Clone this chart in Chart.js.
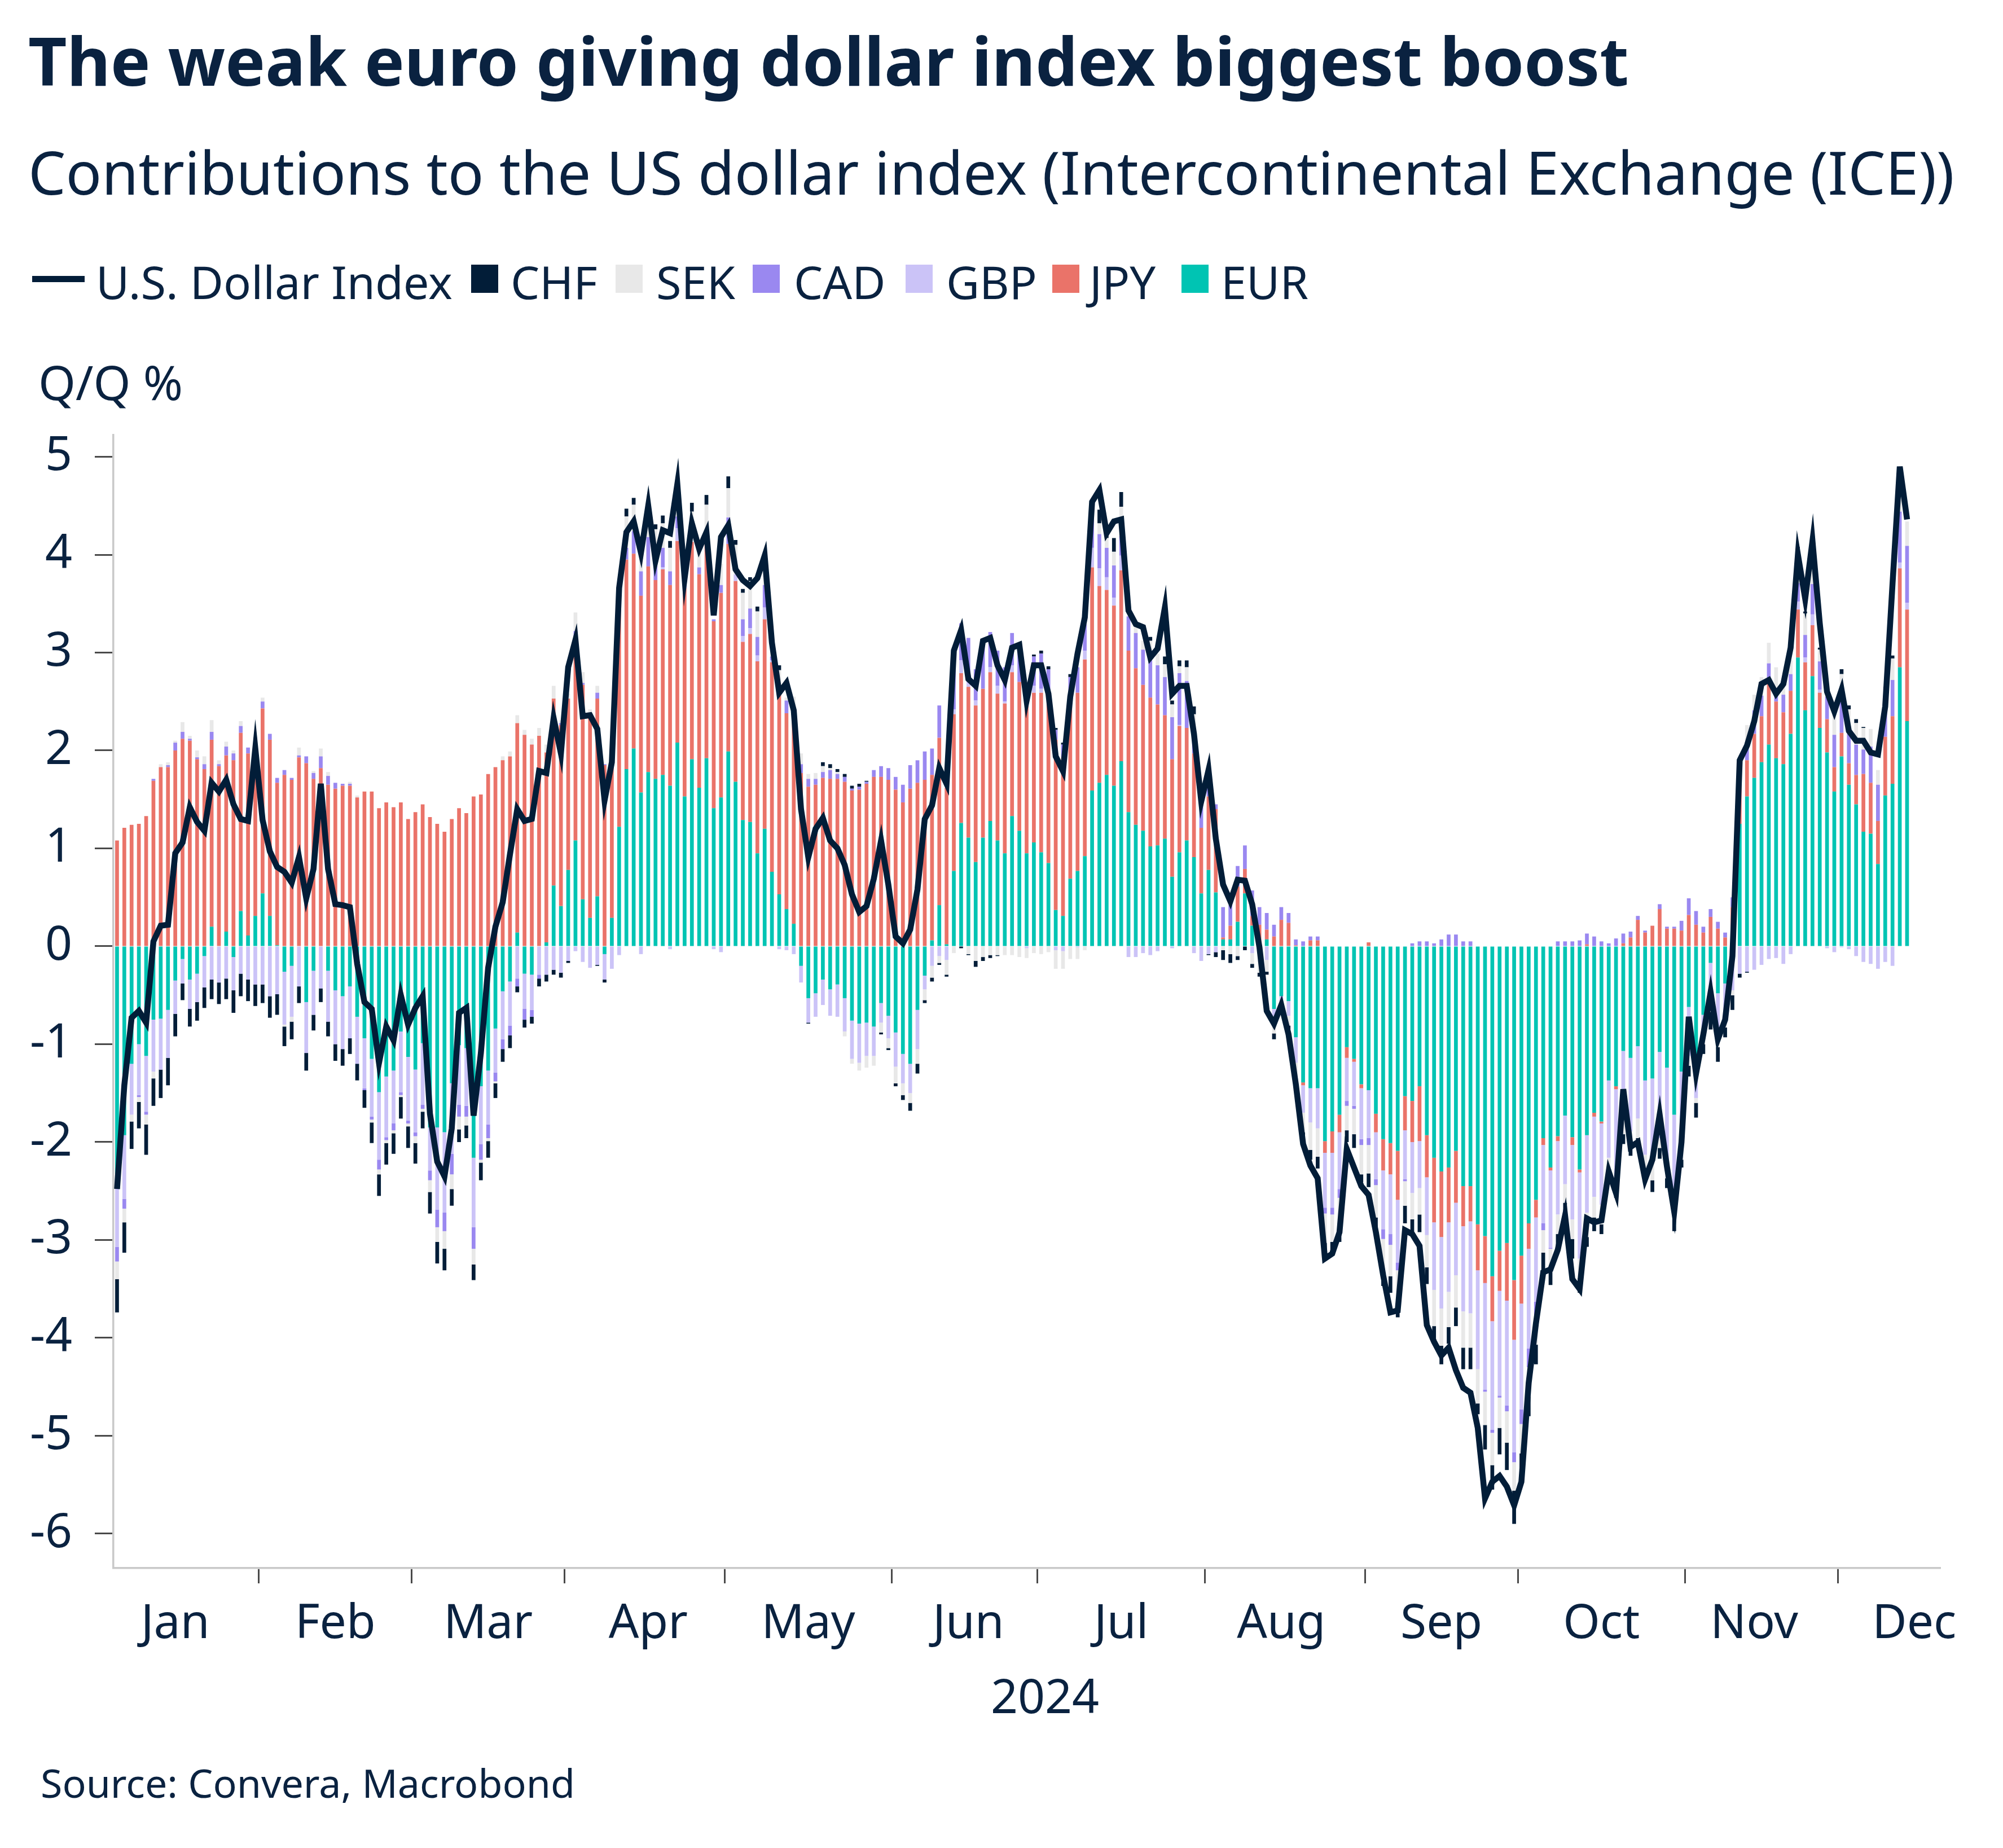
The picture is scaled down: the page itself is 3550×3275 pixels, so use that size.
<!DOCTYPE html>
<html>
<head>
<meta charset="utf-8">
<script src="https://cdn.jsdelivr.net/npm/chart.js@4.4.1/dist/chart.umd.min.js"></script>
<style>
html,body{margin:0;padding:0;background:#fff;}
#wrap{position:relative;width:3550px;height:3275px;overflow:hidden;background:#fff;}
#c{position:absolute;left:0;top:0;}
</style>
</head>
<body>
<div id="wrap">
<canvas id="c" width="3550" height="3275"></canvas>
</div>
<script>
// ---------------- DATA ----------------
const monthNames = ['Jan','Feb','Mar','Apr','May','Jun','Jul','Aug','Sep','Oct','Nov','Dec'];
const monthLabelDates = ['2024-01-16','2024-02-15','2024-03-15','2024-04-16','2024-05-16','2024-06-17',
  '2024-07-16','2024-08-15','2024-09-16','2024-10-16','2024-11-14','2024-12-16'];
const yTicks = [-6,-5,-4,-3,-2,-1,0,1,2,3,4,5];
const axisYear = '2024';

const eur = [
-2.34,-1.93,-1.20,-1.00,-1.12,-0.75,-0.74,-0.65,-0.35,-0.13,
-0.34,-0.28,-0.10,0.20,0,0.15,-0.11,0.36,0.11,0.31,
0.54,0.31,0.01,-0.26,-0.20,0,-0.57,-0.25,0,-0.25,
-0.45,-0.51,-0.41,-0.72,-0.94,-1.15,-1.49,-1.33,-1.27,-0.87,
-1.13,-1.26,-0.99,-1.85,-1.85,-1.90,-1.40,-1.01,-1.04,-2.16,
-1.43,-1.27,-0.84,-0.46,-0.36,0.14,-0.28,-0.29,0,0.04,
0.62,0.41,0.78,1.08,0.48,0.29,0.51,-0.08,0.29,1.22,
1.81,2.02,1.57,1.78,1.71,1.75,1.64,2.08,1.53,1.91,
1.62,1.92,1.41,1.52,1.99,1.68,1.29,1.27,0.95,1.20,
0.76,0.53,0.38,0.23,-0.20,-0.53,-0.48,-0.34,-0.44,-0.39,
-0.53,-0.76,-0.79,-0.78,-0.82,-0.58,-0.71,-0.88,-1.10,-1.20,
-0.65,-0.30,0.06,0.42,0.02,0.77,1.26,1.11,0.86,1.11,
1.28,1.08,0.95,1.33,1.18,0.95,1.06,0.96,0.85,0.37,
0.31,0.69,0.77,0.92,1.59,1.67,1.75,1.64,1.89,1.37,
1.24,1.18,1.02,1.03,1.10,0.71,0.96,1.08,0.91,0.54,
0.78,0.55,0.07,0.07,0.25,0.54,0.21,0,0.07,-0.64,
-0.51,-0.56,-0.93,-1.39,-1.45,-1.45,-1.99,-1.89,-1.72,-1.03,
-1.15,-1.41,-1.47,-1.71,-1.97,-2.01,-2.09,-1.53,-1.58,-1.43,
-1.93,-2.16,-2.30,-2.26,-2.09,-2.45,-2.45,-2.84,-2.96,-3.37,
-3.11,-3.03,-3.41,-3.16,-2.83,-2.59,-1.96,-2.26,-1.94,-1.73,
-1.95,-2.28,-1.93,-1.70,-1.79,-1.37,-1.43,-1.07,-1.14,-1.02,
-1.37,-1.35,-1.08,-1.24,-1.72,-1.28,-0.62,-1.20,-0.70,-0.17,
-0.48,-0.38,0.10,1.25,1.53,1.72,1.88,2.06,1.92,1.86,
2.17,2.95,2.41,2.76,2.23,1.98,1.58,1.94,1.65,1.45,
1.17,1.15,0.84,1.54,1.66,2.85,2.30];

const jpy = [
1.08,1.21,1.24,1.25,1.33,1.69,1.83,1.83,2.00,2.12,
2.10,1.91,1.81,1.91,1.84,1.80,1.90,1.82,1.86,1.78,
1.89,1.80,1.66,1.75,1.70,1.93,1.87,1.71,1.82,1.65,
1.61,1.64,1.64,1.52,1.58,1.58,1.41,1.47,1.42,1.47,
1.30,1.37,1.45,1.32,1.25,1.17,1.30,1.41,1.36,1.53,
1.55,1.76,1.83,1.90,1.94,2.14,2.16,2.06,2.15,1.94,
1.91,1.85,1.75,2.07,2.19,2.04,2.02,1.85,1.55,2.36,
2.14,1.99,2.01,2.10,2.03,2.10,2.05,2.06,2.13,2.22,
2.18,2.25,1.91,2.09,2.12,2.05,1.82,1.92,1.96,2.14,
2.14,2.04,2.00,2.22,1.77,1.63,1.65,1.72,1.71,1.71,
1.68,1.59,1.60,1.66,1.73,1.73,1.70,1.60,1.47,1.61,
1.67,1.70,1.69,1.71,1.60,1.60,1.53,1.54,1.60,1.52,
1.52,1.50,1.53,1.47,1.52,1.51,1.53,1.63,1.66,1.74,
1.62,1.76,1.82,2.01,2.28,2.01,1.89,1.84,1.95,1.65,
1.60,1.49,1.52,1.44,1.26,1.20,1.29,1.15,1.06,0.67,
0.75,0.85,0.02,0.14,0.36,0.25,0.10,0.22,0.10,0.10,
0.27,0.24,0.01,-0.03,0.06,0.06,-0.12,-0.22,-0.18,-0.11,
-0.03,-0.04,0.04,-0.19,-0.32,-0.32,-0.50,-0.35,-0.42,-0.56,
-0.43,-0.66,-0.67,-0.56,-0.53,-0.41,-0.36,-0.47,-0.48,-0.46,
-0.41,-0.59,-0.61,-0.49,-0.26,-0.18,-0.07,-0.03,-0.05,0,
-0.08,-0.03,0.02,-0.04,-0.02,0,-0.03,0.03,0.09,0.27,
0.14,0.21,0.38,0.18,0.18,0.16,0.32,0.22,0.14,0.30,
0.18,0.09,0.30,0.50,0.37,0.45,0.47,0.64,0.58,0.53,
0.44,0.49,0.49,0.52,0.36,0.34,0.25,0.24,0.22,0.30,
0.59,0.52,0.44,0.60,0.69,1.01,1.14];

const gbp = [
-0.73,-0.65,-0.52,-0.52,-0.57,-0.53,-0.52,-0.49,-0.34,-0.25,
-0.30,-0.29,-0.32,-0.34,-0.37,-0.33,-0.34,-0.28,-0.34,-0.39,
-0.39,-0.51,-0.49,-0.54,-0.52,-0.41,-0.52,-0.45,-0.43,-0.52,
-0.55,-0.54,-0.53,-0.48,-0.51,-0.59,-0.69,-0.62,-0.54,-0.62,
-0.65,-0.64,-0.63,-0.44,-0.84,-0.82,-0.72,-0.61,-0.59,-0.71,
-0.59,-0.55,-0.45,-0.49,-0.45,-0.33,-0.36,-0.36,-0.29,-0.29,
-0.24,-0.27,-0.15,-0.05,-0.16,-0.22,-0.19,-0.26,-0.23,-0.09,
0,0,-0.08,0,0,0.02,-0.03,0.13,0,0,
0,0,-0.03,-0.06,0,0.07,0.06,0.06,0.06,0.12,
0.02,-0.03,-0.04,-0.08,-0.17,-0.25,-0.24,-0.26,-0.27,-0.33,
-0.34,-0.39,-0.40,-0.34,-0.30,-0.20,-0.23,-0.35,-0.30,-0.30,
-0.40,-0.14,-0.20,-0.10,-0.14,0.05,0.13,0.05,0.05,0,
0.05,0.08,0.02,0.07,0,-0.02,0.07,0.04,0,-0.04,
-0.05,0,-0.01,0.09,0.20,0.18,0.13,0.08,0.15,-0.11,
-0.11,-0.07,-0.09,-0.05,0,-0.02,0.01,0,-0.07,-0.15,
-0.08,-0.06,0,0,0,0,-0.07,-0.03,-0.14,-0.07,
-0.06,-0.15,-0.26,-0.28,-0.35,-0.41,-0.56,-0.56,-0.58,-0.44,
-0.45,-0.52,-0.49,-0.48,-0.60,-0.61,-0.64,-0.50,-0.52,-0.48,
-0.59,-0.69,-0.73,-0.71,-0.74,-0.87,-0.94,-1.01,-1.09,-1.11,
-1.07,-1.07,-1.15,-1.08,-1.02,-0.86,-0.80,-0.79,-0.75,-0.70,
-0.76,-0.88,-0.79,-0.82,-0.83,-0.79,-0.96,-0.65,-0.75,-0.74,
-0.76,-0.85,-0.88,-1.03,-0.98,-0.80,-0.50,-0.35,-0.25,-0.45,
-0.50,-0.40,-0.45,-0.28,-0.26,-0.24,-0.19,-0.13,-0.12,-0.18,
-0.08,0.08,0.05,0.11,0.03,-0.02,-0.06,-0.01,-0.03,-0.10,
-0.16,-0.18,-0.23,-0.16,-0.20,0.06,0.07];

const cad = [
-0.15,-0.10,0,-0.02,-0.03,0.02,0,0.02,0.08,0.07,
0.02,0.02,0.05,0.08,0.02,0.09,0.07,0.07,0.06,0.04,
0.07,0.06,0.05,0.05,0.02,0.02,0.07,0.06,0.12,0.09,
0.06,0.02,0.02,0,-0.02,-0.03,-0.10,-0.03,-0.07,-0.03,
-0.03,-0.04,-0.04,-0.10,-0.18,-0.19,-0.21,-0.12,-0.11,-0.22,
-0.16,-0.14,-0.09,-0.10,-0.10,-0.08,-0.11,-0.07,-0.04,0,
0,0.02,0,0.07,0.02,0,0.06,0.01,0,0,
0.12,0.23,0.25,0.30,0.20,0.20,0.14,0.12,0.04,0,
0.07,0,0.02,0.08,0.27,0,0.17,0.20,0.19,0.23,
0.04,0,0.13,0,0.09,0.08,0.06,0.06,0.09,0.05,
0.05,0.02,0.03,0.02,0.07,0.11,0.12,0.13,0.18,0.24,
0.23,0.29,0.27,0.33,0,0.40,0.38,0.45,0.32,0.48,
0.36,0.36,0.35,0.33,0.39,0.06,0.30,0.36,0.32,0.10,
0.13,0.30,0.26,0.27,0.30,0.35,0.30,0.33,0.20,0.35,
0.36,0.36,0.38,0.40,0.39,0.43,0.53,0.48,0.20,0.25,
0.30,0.05,0.31,0.21,0.21,0.24,0.26,0.18,0.17,0.12,
0.13,0.10,0.06,0.05,0.04,0.04,-0.06,-0.07,-0.09,-0.05,
-0.03,-0.06,-0.07,-0.06,-0.10,-0.11,-0.08,-0.02,0.03,0.05,
0.05,0.03,0.07,0.12,0.12,0.05,0.05,0,-0.02,-0.03,
-0.02,-0.06,-0.10,-0.15,-0.19,-0.14,-0.07,-0.01,0.05,0.05,
0.05,0.06,0.11,0.10,0.05,0.03,0.08,0.10,0.06,0.04,
0.02,0,0.05,0.02,0.02,0.10,0.17,0.14,0.06,0.08,
0.07,0.05,0.10,0.12,0.17,0.24,0.21,0.19,0.14,0.18,
0.17,0.19,0.23,0.31,0.29,0.23,0.33,0.35,0.30,0.31,
0.25,0.37,0.37,0.38,0.37,0.52,0.58];

const sek = [
-0.18,-0.14,-0.07,-0.05,-0.10,-0.07,0.03,0.03,0.02,0.10,
0.03,0.07,0.08,0.12,0.04,0.05,0.03,0.05,0,0,
0.04,0,0,-0.02,-0.05,0.08,0,0.02,0.08,0.04,
0,0,0.02,0.02,0,-0.03,-0.05,-0.03,-0.03,-0.02,
-0.03,-0.07,-0.03,-0.12,-0.15,-0.18,-0.15,-0.13,-0.09,-0.16,
-0.03,-0.03,-0.02,0.04,0.05,0.08,0.05,0.06,0.08,0.08,
0.13,0.03,0.05,0.19,0.11,0.09,0.07,0,0.02,0.05,
0.32,0.27,0.19,0.12,0.32,0.25,0.24,0.05,0.05,0.31,
0.17,0.34,0,0.22,0.30,0.30,0.27,0.28,0.26,0.20,
0.10,0.25,0.03,0.10,0.11,0.05,0.06,0.06,0.02,0.02,
-0.05,-0.05,-0.08,-0.12,-0.10,-0.10,-0.10,-0.17,-0.12,-0.10,
-0.15,-0.11,-0.12,-0.07,-0.15,-0.07,0,-0.08,-0.15,-0.11,
-0.09,-0.09,-0.09,-0.09,-0.11,-0.10,-0.07,-0.08,-0.06,-0.19,
-0.18,-0.13,-0.12,-0.04,0.05,0.11,0.10,0.14,0.30,0,
0.09,0.09,0.20,0.12,0.13,0.13,0.07,0.14,0.20,0,
0,0,-0.04,-0.08,-0.10,0,-0.11,-0.24,-0.12,-0.18,
-0.05,-0.10,-0.20,-0.20,-0.28,-0.29,-0.30,-0.28,-0.33,-0.25,
-0.26,-0.30,-0.29,-0.33,-0.38,-0.32,-0.40,-0.25,-0.27,-0.27,
-0.33,-0.37,-0.38,-0.36,-0.33,-0.37,-0.35,-0.35,-0.34,-0.33,
-0.31,-0.32,-0.29,-0.30,-0.30,-0.30,-0.23,-0.20,-0.20,-0.19,
-0.20,-0.20,-0.25,-0.21,-0.20,-0.13,-0.10,-0.20,-0.15,-0.20,
-0.15,-0.19,-0.10,-0.10,-0.05,-0.10,-0.10,-0.05,-0.05,-0.05,
-0.05,-0.05,-0.05,0.05,0.19,0.16,0.19,0.21,0.21,0.10,
0.14,0.33,0.22,0.30,0.12,0.10,0.21,0.25,0.25,0.22,
0.22,0.18,0.15,0.10,0.22,0.20,0.25];

const chf = [
-0.34,-0.31,-0.28,-0.27,-0.31,-0.28,-0.29,-0.28,-0.23,-0.17,
-0.18,-0.19,-0.21,-0.20,-0.22,-0.21,-0.23,-0.23,-0.22,-0.22,
-0.19,-0.22,-0.21,-0.20,-0.18,-0.17,-0.18,-0.16,-0.14,-0.15,
-0.17,-0.17,-0.16,-0.17,-0.18,-0.21,-0.22,-0.22,-0.21,-0.22,
-0.22,-0.21,-0.17,-0.22,-0.22,-0.22,-0.17,-0.13,-0.13,-0.16,
-0.18,-0.17,-0.15,-0.13,-0.13,-0.06,-0.08,-0.07,-0.08,-0.07,
-0.05,-0.05,-0.02,0,0,0,-0.01,-0.03,0,0,
0.08,0.07,0,0.05,0.05,0.08,0.07,0,0,0.09,
0,0.10,0,0,0.12,0.05,0.04,0.04,0.05,0.10,
0,0.05,0,0,0,-0.01,0,0.04,0.04,0.03,
0.03,0.03,0.03,0.01,0,-0.02,-0.02,-0.03,-0.05,-0.08,
-0.10,-0.03,-0.04,-0.02,-0.02,0,-0.02,-0.01,-0.06,-0.04,
-0.03,-0.01,0,0,0,0,0.02,0.03,0.03,0.02,
0.02,0.03,0,0,0.05,0.14,0.03,0.14,0.15,0,
0,0,0.04,0,0.08,0.04,0.06,0.07,0.08,0,
-0.01,-0.05,-0.10,-0.09,-0.04,-0.04,-0.04,-0.04,-0.03,-0.06,
-0.04,-0.04,-0.05,-0.08,-0.10,-0.12,-0.12,-0.12,-0.12,-0.12,
-0.14,-0.08,-0.14,-0.10,-0.10,-0.17,-0.08,-0.18,-0.13,-0.18,
-0.17,-0.15,-0.19,-0.17,-0.19,-0.22,-0.22,-0.11,-0.25,-0.25,
-0.27,-0.28,-0.34,-0.25,-0.20,-0.20,-0.20,-0.17,-0.12,-0.20,
-0.20,-0.15,-0.10,-0.14,-0.10,-0.10,-0.05,-0.10,-0.10,-0.10,
-0.12,-0.12,-0.11,-0.10,-0.16,-0.08,-0.11,-0.15,-0.10,-0.18,
-0.15,-0.10,-0.15,-0.04,-0.01,0,0,0,0,0,
0,0.04,0.02,0.05,0.02,0,0,0.05,0.04,0.04,
0.01,0,0,0.03,0.03,0.05,0];

const usdIndex = [
-2.48,-1.42,-0.73,-0.66,-0.78,0.05,0.21,0.22,0.95,1.06,
1.42,1.27,1.18,1.67,1.58,1.70,1.45,1.30,1.28,2.02,
1.29,0.97,0.81,0.76,0.65,0.91,0.49,0.79,1.66,0.79,
0.43,0.42,0.40,-0.18,-0.57,-0.64,-1.19,-0.82,-0.96,-0.50,
-0.80,-0.63,-0.51,-1.71,-2.20,-2.35,-1.86,-0.68,-0.63,-1.73,
-1.09,-0.22,0.20,0.45,0.94,1.40,1.28,1.30,1.79,1.77,
2.33,1.97,2.85,3.13,2.35,2.36,2.22,1.49,1.88,3.66,
4.23,4.34,4.02,4.50,3.94,4.25,4.22,4.72,3.76,4.32,
4.06,4.23,3.38,4.18,4.30,3.85,3.74,3.68,3.76,3.99,
3.10,2.59,2.69,2.41,1.40,0.91,1.20,1.31,1.08,1.00,
0.83,0.53,0.35,0.41,0.69,1.08,0.63,0.10,0.03,0.17,
0.58,1.30,1.44,1.82,1.66,3.02,3.23,2.73,2.66,3.12,
3.15,2.87,2.72,3.05,3.08,2.51,2.87,2.87,2.58,1.94,
1.79,2.55,2.99,3.36,4.54,4.66,4.22,4.34,4.36,3.43,
3.29,3.26,2.95,3.04,3.46,2.58,2.66,2.66,2.17,1.48,
1.80,1.10,0.63,0.46,0.68,0.67,0.43,-0.01,-0.66,-0.79,
-0.60,-0.90,-1.41,-2.02,-2.24,-2.37,-3.19,-3.14,-2.92,-2.07,
-2.26,-2.45,-2.54,-2.92,-3.36,-3.74,-3.72,-2.90,-2.94,-3.06,
-3.87,-4.04,-4.18,-4.10,-4.33,-4.51,-4.56,-4.92,-5.64,-5.47,
-5.41,-5.52,-5.71,-5.47,-4.46,-3.85,-3.33,-3.30,-3.10,-2.75,
-3.40,-3.50,-2.78,-2.82,-2.80,-2.30,-2.52,-1.46,-2.05,-2.00,
-2.38,-2.18,-1.72,-2.25,-2.71,-2.00,-0.72,-1.30,-0.90,-0.47,
-0.95,-0.75,-0.10,1.90,2.05,2.30,2.68,2.72,2.58,2.68,
3.05,4.00,3.55,4.14,3.30,2.60,2.40,2.62,2.20,2.10,
2.10,1.98,1.96,2.45,3.70,4.90,4.36];

// Business-day categories (axis runs Jan 4 – Dec 19, 2024)
const categories = [];
for (let d = new Date(Date.UTC(2024,0,4)); d <= new Date(Date.UTC(2024,11,19)); d.setUTCDate(d.getUTCDate()+1)) {
  const wd = d.getUTCDay();
  if (wd === 0 || wd === 6) continue;
  categories.push(d.toISOString().slice(0,10));
}

// ---------------- STYLE / LAYOUT ----------------
const TXT = '#0a2240';
const NAVY = '#021d38';
const COLORS = {EUR:'#00c4b3', JPY:'#ea7369', GBP:'#cbc3f7', CAD:'#9a88f0', SEK:'#e8e8e8', CHF:NAVY};
const FAM = "'Noto Sans', sans-serif";
Chart.defaults.font.family = FAM;

const wrap = document.getElementById('wrap');
function measure(text, weight, size) {
  const c = document.createElement('canvas').getContext('2d');
  c.font = weight + ' ' + size + 'px ' + FAM;
  return c.measureText(text).width;
}
function addText(text, left, baseline, opts) {
  const el = document.createElement('div');
  const weight = opts.weight || 400;
  let size = opts.size;
  if (opts.width) size = 100 * opts.width / measure(text, weight, 100);
  el.textContent = text;
  let l = left;
  if (opts.center) l = left - measure(text, weight, size) / 2;
  Object.assign(el.style, {position:'absolute', left: l + 'px', top: (baseline - 0.888 * size) + 'px',
    fontSize: size + 'px', fontWeight: weight, lineHeight: '1', whiteSpace: 'nowrap',
    fontFamily: FAM, color: TXT});
  wrap.appendChild(el);
  return size;
}
function addBox(left, top, w, h, color) {
  const el = document.createElement('div');
  Object.assign(el.style, {position:'absolute', left: left+'px', top: top+'px', width: w+'px', height: h+'px', background: color});
  wrap.appendChild(el);
}

addText('The weak euro giving dollar index biggest boost', 50, 153, {weight:700, width:2837});
addText('Contributions to the US dollar index (Intercontinental Exchange (ICE))', 50, 346, {width:3414});
// legend
const legendItems = [
  {name:'U.S. Dollar Index', color:NAVY, line:true},
  {name:'CHF', color:COLORS.CHF}, {name:'SEK', color:COLORS.SEK}, {name:'CAD', color:COLORS.CAD},
  {name:'GBP', color:COLORS.GBP}, {name:'JPY', color:COLORS.JPY}, {name:'EUR', color:COLORS.EUR}];
const legMarkX = [57, 835, 1091, 1334, 1605, 1865, 2094];
const legTextX = [170, 905, 1163, 1407, 1677, 1931, 2164];
const legSize = 100 * 632 / measure('U.S. Dollar Index', 400, 100);
legendItems.forEach((it, i) => {
  if (it.line) addBox(legMarkX[i], 489, 93, 11, it.color);
  else addBox(legMarkX[i], 469, 48, 50, it.color);
  addText(it.name, legTextX[i], 530, {size: legSize});
});
addText('Q/Q %', 68, 710, {width:256});
addText(axisYear, 1852, 3037, {size:84, center:true});
addText('Source: Convera, Macrobond', 72, 3186, {width:947});

// ---------------- CHART ----------------
const boundaryIdx = new Set();
categories.forEach((d, i) => { if (i > 0 && d.slice(5,7) !== categories[i-1].slice(5,7)) boundaryIdx.add(i); });

const barDs = (label, data) => ({type:'bar', label, data, backgroundColor: COLORS[label], borderWidth: 0,
  stack: 'fx', order: 1, barPercentage: 0.52, categoryPercentage: 1.0});

new Chart(document.getElementById('c'), {
  type: 'bar',
  data: {
    labels: categories,
    datasets: [
      {type:'line', label:'U.S. Dollar Index', data: usdIndex, borderColor: NAVY, borderWidth: 10.5,
       pointRadius: 0, pointHoverRadius: 0, fill: false, tension: 0, stack: 'idx', order: 0},
      barDs('EUR', eur), barDs('JPY', jpy), barDs('GBP', gbp),
      barDs('CAD', cad), barDs('SEK', sek), barDs('CHF', chf)
    ]
  },
  options: {
    responsive: false, animation: false, devicePixelRatio: 1,
    layout: {padding: {left: 0, right: 112, top: 771, bottom: 296}},
    plugins: {legend: {display: false}, tooltip: {enabled: false}, title: {display: false}},
    scales: {
      x: {
        stacked: true, offset: true,
        grid: {display: true, drawOnChartArea: false, drawTicks: true, tickLength: 27, offset: true,
          tickWidth: 3, lineWidth: 3,
          tickColor: (c) => boundaryIdx.has(c.index) ? '#4a4a4a' : 'rgba(0,0,0,0)'},
        border: {display: true, color: '#c9c9c9', width: 3.5},
        ticks: {autoSkip: false, maxRotation: 0, minRotation: 0, padding: 23, color: TXT,
          font: {size: 84},
          callback: (v, i) => { const k = monthLabelDates.indexOf(categories[i]); return k >= 0 ? monthNames[k] : ''; }},
        afterFit: (s) => { s.height = 200; }
      },
      y: {
        stacked: true, min: -6.352, max: 5.222,
        afterBuildTicks: (s) => { s.ticks = yTicks.map(v => ({value: v})); },
        grid: {display: true, drawOnChartArea: false, drawTicks: true, tickLength: 33, tickWidth: 3, tickColor: '#4a4a4a'},
        border: {display: true, color: '#c9c9c9', width: 3.5},
        ticks: {padding: 40, color: TXT, font: {size: 84}, callback: (v) => String(v)},
        afterFit: (s) => { s.width = 201; }
      }
    }
  }
});
</script>
</body>
</html>
